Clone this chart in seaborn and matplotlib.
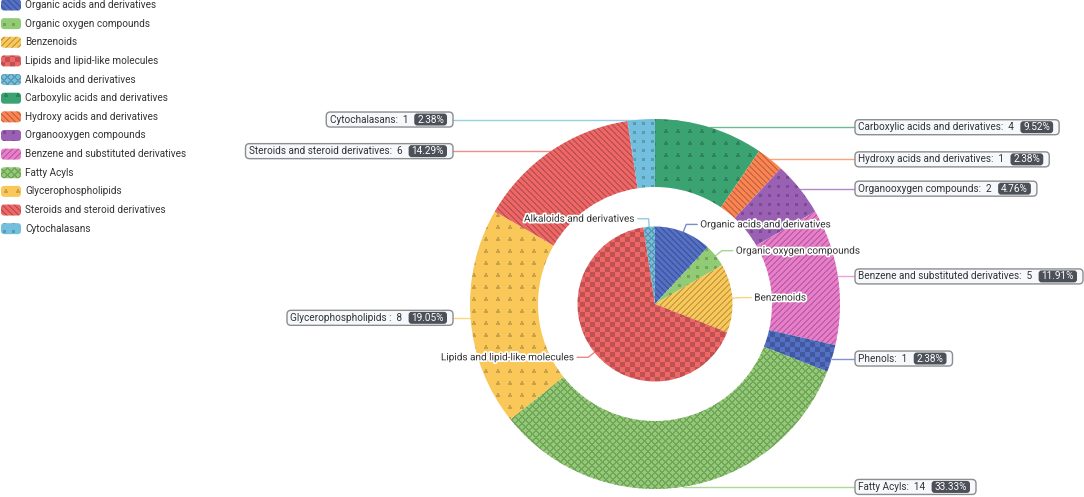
import numpy as np
import matplotlib.pyplot as plt
import matplotlib.patheffects as pe
from matplotlib.patches import FancyBboxPatch
import seaborn as sns

# data
inner_names = ['Organic acids and derivatives', 'Organic oxygen compounds', 'Benzenoids',
               'Lipids and lipid-like molecules', 'Alkaloids and derivatives']
inner_values = [5, 2, 6, 28, 1]

outer_names = ['Carboxylic acids and derivatives', 'Hydroxy acids and derivatives',
               'Organooxygen compounds', 'Benzene and substituted derivatives', 'Phenols',
               'Fatty Acyls', 'Glycerophospholipids ', 'Steroids and steroid derivatives',
               'Cytochalasans']
outer_values = [4, 1, 2, 5, 1, 14, 8, 6, 1]
outer_percents = ['9.52%', '2.38%', '4.76%', '11.91%', '2.38%', '33.33%', '19.05%', '14.29%', '2.38%']

legend_names = inner_names + [n.strip() for n in outer_names if n != 'Phenols']

sns.set_theme(style='white')
plt.rcParams['font.family'] = ['Roboto', 'DejaVu Sans']

palette = sns.color_palette(['#5470c6', '#91cc75', '#fac858', '#ee6666', '#73c0de',
                             '#3ba272', '#fc8452', '#9a60b4', '#ea7ccc'])
# colours and decals are handed out in order of names over both rings
all_names = inner_names + [n.strip() for n in outer_names]
color_of = {n: palette[i % 9] for i, n in enumerate(all_names)}
decal_of = {n: i % 6 for i, n in enumerate(all_names)}
inner_colors = [color_of[n] for n in inner_names]
outer_colors = [color_of[n.strip()] for n in outer_names]

W, H = 1084, 497
fig = plt.figure(figsize=(W / 100, H / 100), dpi=100)
ax = fig.add_axes([0, 0, 1, 1])

# decal patterns (ECharts-like), one overlay per kind
yy, xx = np.mgrid[0:H, 0:W] + 0.5


def decal(kind):
    if kind == 0:
        m = (xx + yy) % 6 < 1.6
    elif kind == 1:
        m = ((xx % 9) - 4.5) ** 2 + ((yy % 9) - 4.5) ** 2 < 2.0 ** 2
    elif kind == 2:
        m = (xx - yy) % 6 < 1.6
    elif kind == 3:
        m = ((xx // 5) + (yy // 5)) % 2 == 0
    elif kind == 4:
        m = ((xx + yy) % 7 < 1.1) | ((xx - yy) % 7 < 1.1)
    else:
        u = (xx % 12) - 6
        v = (yy % 12) - 6
        m = (v > -2.5) & (v < 2.5) & (np.abs(u) < (2.5 - v) * 0.6)
    img = np.zeros((H, W, 4))
    img[m] = (0, 0, 0, 0.2)
    return img


overlays = [decal(k) for k in range(6)]


def add_decal(patch, kind):
    im = ax.imshow(overlays[kind], extent=(0, W, 0, H), origin='lower',
                   interpolation='none', zorder=patch.get_zorder() + 0.1)
    im.set_clip_path(patch)


cx, cy = 655, H - 304
r_out, r_ring, r_in = 185, 68, 77.5

outer_wedges, _ = ax.pie(outer_values, radius=r_out, center=(cx, cy), startangle=90,
                         counterclock=False, colors=outer_colors,
                         wedgeprops=dict(width=r_ring, linewidth=0))
inner_wedges, _ = ax.pie(inner_values, radius=r_in, center=(cx, cy), startangle=90,
                         counterclock=False, colors=inner_colors,
                         wedgeprops=dict(linewidth=0))
for w, n in zip(outer_wedges, outer_names):
    add_decal(w, decal_of[n.strip()])
for w, n in zip(inner_wedges, inner_names):
    add_decal(w, decal_of[n])

ax.set_xlim(0, W)
ax.set_ylim(0, H)
ax.set_aspect('equal')
ax.axis('off')

fs = 7.2
renderer = fig.canvas.get_renderer()

# inner labels
for w, name, c in zip(inner_wedges, inner_names, inner_colors):
    a = np.deg2rad((w.theta1 + w.theta2) / 2)
    x0, y0 = cx + r_in * np.cos(a), cy + r_in * np.sin(a)
    x1, y1 = cx + (r_in + 8) * np.cos(a), cy + (r_in + 8) * np.sin(a)
    s = 1 if np.cos(a) >= 0 else -1
    x2 = x1 + 11 * s
    ax.plot([x0, x1, x2], [y0, y1, y1], color=c, lw=1, alpha=0.8, zorder=5)
    ax.text(x2 + 3 * s, y1, name, ha='left' if s > 0 else 'right', va='center',
            fontsize=fs, color='#333333', zorder=6,
            path_effects=[pe.withStroke(linewidth=2.5, foreground='white')])

# outer labels with boxes
for w, name, v, pct, c in zip(outer_wedges, outer_names, outer_values, outer_percents, outer_colors):
    a = np.deg2rad((w.theta1 + w.theta2) / 2)
    ex, ey = cx + r_out * np.cos(a), cy + r_out * np.sin(a)
    right = np.cos(a) >= 0
    edge = 855 if right else 453
    ax.plot([ex, edge], [ey, ey], color=c, lw=1, alpha=0.75, zorder=5)
    label = f'{name}:  {v}'
    if right:
        t = ax.text(edge + 3.5, ey, label, ha='left', va='center', fontsize=fs, color='#333333', zorder=8)
        bb = t.get_window_extent(renderer)
        p = ax.text(bb.x1 + 9, ey, pct, ha='left', va='center', fontsize=fs, color='white', zorder=8)
        pb = p.get_window_extent(renderer)
        box_l, box_r = edge, pb.x1 + 3 + 6
    else:
        p = ax.text(edge - 9, ey, pct, ha='right', va='center', fontsize=fs, color='white', zorder=8)
        pb = p.get_window_extent(renderer)
        t = ax.text(pb.x0 - 9, ey, label, ha='right', va='center', fontsize=fs, color='#333333', zorder=8)
        bb = t.get_window_extent(renderer)
        box_l, box_r = bb.x0 - 3.5, edge
    ax.add_patch(FancyBboxPatch((pb.x0 - 3, ey - 6), pb.width + 6, 12,
                                boxstyle='round,pad=0,rounding_size=3',
                                fc='#4C5058', ec='none', zorder=7))
    ax.add_patch(FancyBboxPatch((box_l, ey - 7.5), box_r - box_l, 15,
                                boxstyle='round,pad=0,rounding_size=4',
                                fc='#F6F8FC', ec='#8C8D8E', lw=1, zorder=6))

# legend
for i, name in enumerate(legend_names):
    yc = H - (5 + 18.64 * i)
    sw = FancyBboxPatch((1, yc - 5.5), 20, 11, boxstyle='round,pad=0,rounding_size=3',
                        fc=color_of[name], ec='none', zorder=5)
    ax.add_patch(sw)
    add_decal(sw, decal_of[name])
    ax.text(25, yc, name, ha='left', va='center', fontsize=fs, color='#333333')

plt.savefig('out.png', dpi=100)
